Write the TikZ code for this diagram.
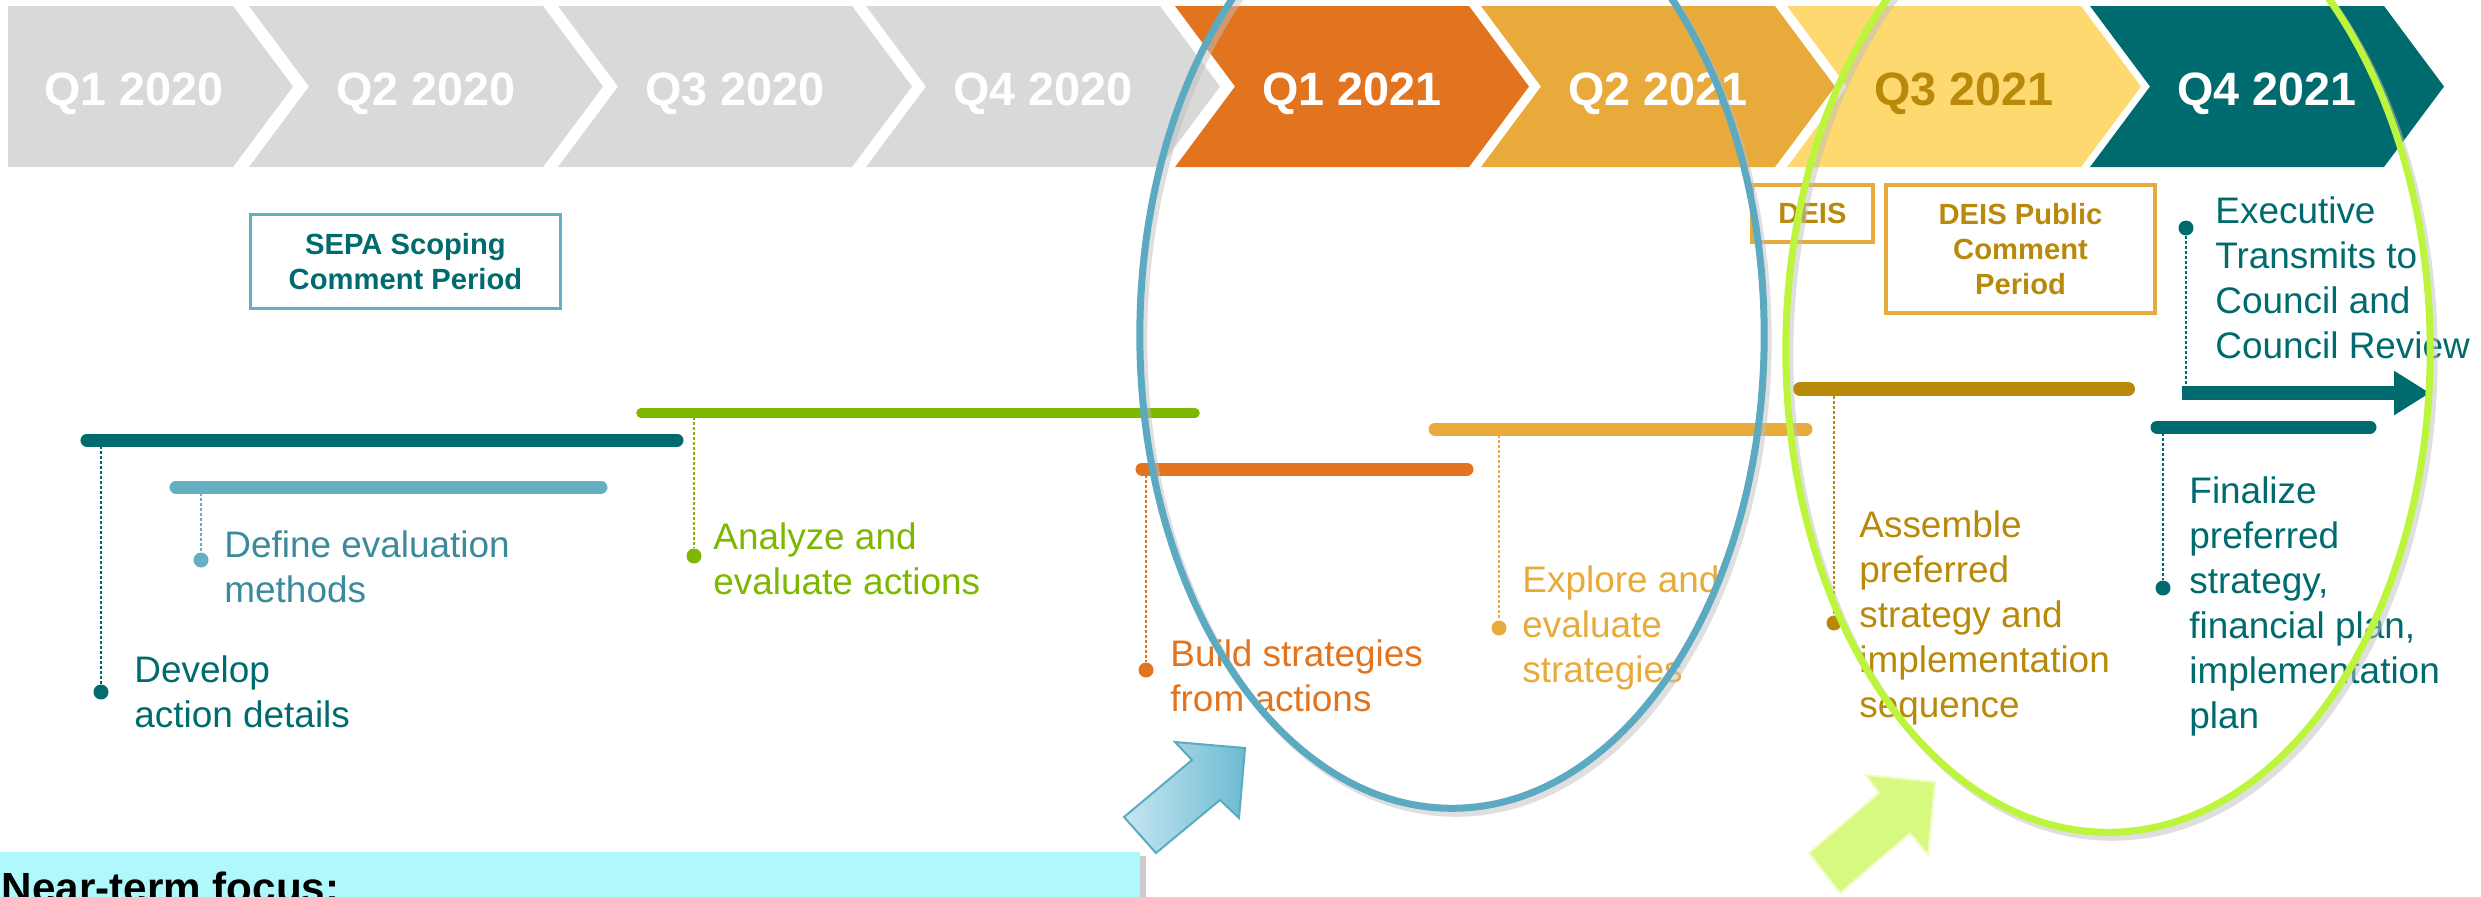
\documentclass[tikz,border=0pt]{standalone}
\usepackage{fontspec}
\setmainfont{Liberation Sans}
\usetikzlibrary{positioning,arrows.meta}
\definecolor{greyq}{HTML}{D9D9D9}
\definecolor{orangeq}{HTML}{E2741F}
\definecolor{goldq}{HTML}{E8AA3A}
\definecolor{yellowq}{HTML}{FDD96F}
\definecolor{tealq}{HTML}{006B6E}
\definecolor{dgold}{HTML}{B8890A}
\definecolor{lightbq}{HTML}{66AFC2}
\definecolor{definetxt}{HTML}{3B8A9C}
\definecolor{greenq}{HTML}{7DB700}
\definecolor{ellblue}{HTML}{5BAAC1}
\definecolor{ellgreen}{HTML}{BDF53C}
\definecolor{focusfill}{HTML}{AFF9FD}
\definecolor{arrblueL}{HTML}{C6E6F0}
\definecolor{arrblueD}{HTML}{6DBBD3}
\definecolor{arrgreen}{HTML}{D7F97F}
\definecolor{arrgreenB}{HTML}{EEFDC0}
\tikzset{
    qlabel/.style = {font=\bfseries\fontsize{13.3}{16}\selectfont, text=white, anchor=base, inner sep=0},
    taskbar/.style = {line width=0.13cm, line cap=round},
    lead/.style = {line width=0.027cm, dash pattern=on 0.03cm off 0.02cm},
    taskdot/.style = {circle, fill, inner sep=0, minimum size=0.15cm},
    task/.style = {align=left, inner sep=0, font=\fontsize{10.5}{12.8}\selectfont},
    milestone/.style = {draw, align=center, inner sep=0, font=\bfseries\fontsize{8.3}{10}\selectfont},
    lens/.style = {line width=0.07cm}
}
% chevron: left x, fill, text colour, name, label
\newcommand{\quarter}[5]{%
    \fill[#2] (#1,6) -- ++(294,0) -- ++(60,80.5) -- ++(-60,80.5) -- ++(-294,0) -- ++(60,-80.5) -- cycle;
    \node[qlabel, text=#3] (#4) at (#1+177,105.5) {#5};}

\begin{document}
\begin{tikzpicture}[x=0.01cm, y=-0.01cm]
    \useasboundingbox (0,0) rectangle (2481,896);
    \begin{scope}
    \clip (0,0) rectangle (2481,896);
    % quarters
    \fill[greyq] (8,6) -- (233,6) -- (293,86.5) -- (233,167) -- (8,167) -- cycle;
    \node[qlabel] (q1a) at (134,105.5) {Q1 2020};
    \quarter{249}{greyq}{white}{q2a}{Q2 2020}
    \quarter{558}{greyq}{white}{q3a}{Q3 2020}
    \quarter{866}{greyq}{white}{q4a}{Q4 2020}
    \quarter{1175}{orangeq}{white}{q1b}{Q1 2021}
    \quarter{1481}{goldq}{white}{q2b}{Q2 2021}
    \quarter{1787}{yellowq}{dgold}{q3b}{Q3 2021}
    \quarter{2090}{tealq}{white}{q4b}{Q4 2021}

    % comment periods
    \node[milestone, draw=lightbq, line width=0.03cm, text=tealq, minimum width=3.09cm, minimum height=0.93cm] (sepa) at (405.5,261.5) {SEPA Scoping\\Comment Period};
    \node[milestone, draw=goldq, line width=0.04cm, text=dgold, minimum width=1.21cm, minimum height=0.57cm] (deis) at (1812.5,213.5) {DEIS};
    \node[milestone, draw=goldq, line width=0.04cm, text=dgold, minimum width=2.69cm, minimum height=1.28cm] (deispub) at (2020.5,249) {DEIS Public\\Comment\\Period};

    % task bars
    \draw[taskbar, tealq] (87,440) -- (677,440);
    \draw[taskbar, lightbq] (176,487) -- (601,487);
    \draw[taskbar, greenq, line width=0.095cm] (641,413) -- (1195,413);
    \draw[taskbar, orangeq] (1142,469) -- (1467,469);
    \draw[taskbar, goldq] (1435,429) -- (1806,429);
    \draw[taskbar, dgold, line width=0.14cm] (1800,389) -- (2128,389);
    \draw[taskbar, tealq] (2157,427) -- (2370,427);

    % dots and labels
    \coordinate (devtop) at (101,446);
    \node[taskdot, tealq] (devdot) at (101,692) {};
    \node[task, text=tealq, right=0.245cm of devdot] (devtxt) {Develop\\action details};
    \draw[lead, tealq] (devtop) -- (devdot);

    \coordinate (deftop) at (201,493);
    \node[taskdot, lightbq] (defdot) at (201,560) {};
    \node[task, text=definetxt, right=0.145cm of defdot, yshift=-0.07cm] (deftxt) {Define evaluation\\methods};
    \draw[lead, lightbq] (deftop) -- (defdot);

    \coordinate (anatop) at (694,417);
    \node[taskdot, greenq] (anadot) at (694,556) {};
    \node[task, text=greenq, right=0.105cm of anadot, yshift=-0.03cm] (anatxt) {Analyze and\\evaluate actions};
    \draw[lead, greenq] (anatop) -- (anadot);

    \coordinate (buildtop) at (1146,475);
    \node[taskdot, orangeq] (builddot) at (1146,670) {};
    \node[task, text=orangeq, right=0.155cm of builddot, yshift=-0.06cm] (buildtxt) {Build strategies\\from actions};
    \draw[lead, orangeq] (buildtop) -- (builddot);

    \coordinate (exptop) at (1499,435);
    \node[taskdot, goldq] (expdot) at (1499,628) {};
    \node[task, text=goldq, right=0.145cm of expdot] (exptxt) {Explore and\\evaluate\\strategies};
    \draw[lead, goldq] (exptop) -- (expdot);

    \coordinate (asmtop) at (1834,396);
    \node[taskdot, dgold] (asmdot) at (1834,623) {};
    \node[task, text=dgold, right=0.165cm of asmdot, yshift=0.05cm] (asmtxt) {Assemble\\preferred\\strategy and\\implementation\\sequence};
    \draw[lead, dgold] (asmtop) -- (asmdot);

    \coordinate (fintop) at (2163,433);
    \node[taskdot, tealq] (findot) at (2163,588) {};
    \node[task, text=tealq, right=0.175cm of findot, yshift=-0.18cm] (fintxt) {Finalize\\preferred\\strategy,\\financial plan,\\implementation\\plan};
    \draw[lead, tealq] (fintop) -- (findot);

    % transmit to council
    \coordinate (xstart) at (2182,393);
    \coordinate (xend) at (2430,393);
    \coordinate (xfoot) at (2186,386);
    \draw[-{Triangle[length=0.36cm,width=0.42cm]}, line width=0.14cm, tealq] (xstart) -- (xend);
    \node[taskdot, tealq] (exedot) at (2186,228) {};
    \node[task, text=tealq, right=0.205cm of exedot, yshift=-0.5cm] (exetxt) {Executive\\Transmits to\\Council and\\Council Review};
    \draw[lead, tealq] (exedot) -- (xfoot);

    % pointers
    \shade[left color=arrblueL, right color=arrblueD, draw=ellblue, line width=0.02cm]
        (1245,748) -- (1239,818) -- (1220,800) -- (1156,853) -- (1124,817) -- (1192,760) -- (1175,742) -- cycle;
    \filldraw[fill=arrgreen, draw=arrgreenB, line width=0.02cm]
        (1935,782) -- (1928,855) -- (1910,833) -- (1840,893) -- (1809,853) -- (1879,793) -- (1866,775) -- cycle;

    % near-term focus
    \fill[black!20] (1140,856) rectangle (1146,900);
    \fill[focusfill] (0,852) rectangle (1140,900);
    \node[anchor=base west, inner sep=0, font=\bfseries\fontsize{12}{14}\selectfont] (focus) at (1,902) {Near-term focus:};

    % highlight ellipses
    \draw[lens, black!25, opacity=0.5] (1456,340) ellipse [x radius=3.12cm, y radius=4.73cm];
    \draw[lens, ellblue] (1452,335) ellipse [x radius=3.12cm, y radius=4.73cm];
    \draw[lens, black!25, opacity=0.5] (2112,355) ellipse [x radius=3.22cm, y radius=4.82cm];
    \draw[lens, ellgreen] (2108,350) ellipse [x radius=3.22cm, y radius=4.82cm];
    \end{scope}
\end{tikzpicture}
\end{document}
